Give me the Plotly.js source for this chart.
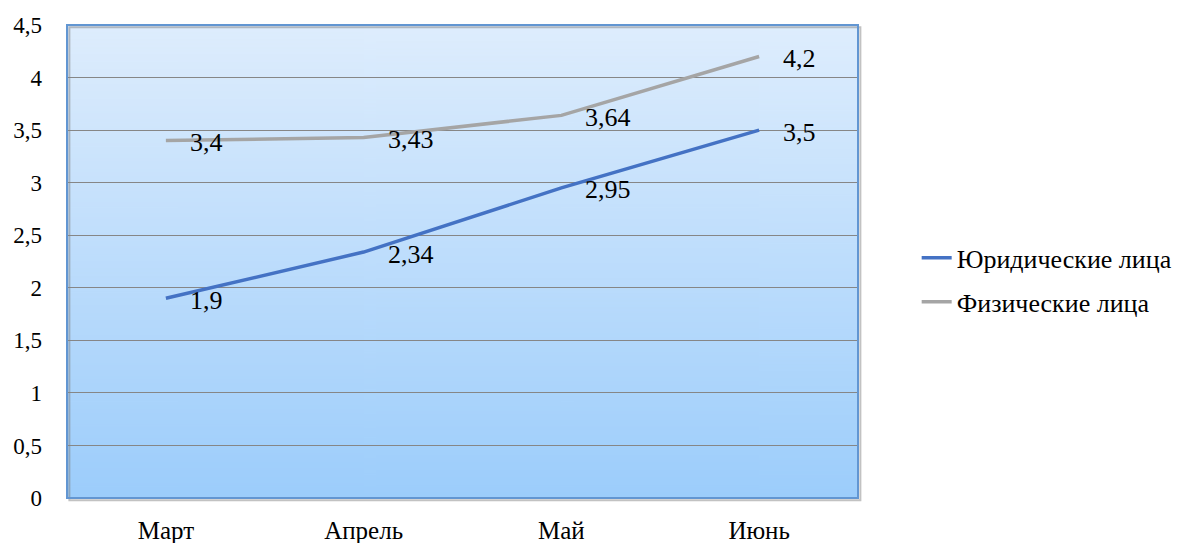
<!DOCTYPE html>
<html><head><meta charset="utf-8">
<script src="https://cdn.plot.ly/plotly-3.0.1.min.js"></script>
<style>html,body{margin:0;padding:0;background:#fff;}#chart{width:1179px;height:543px;}</style>
</head><body><div id="chart"></div>
<script>
const categories = ['Март', 'Апрель', 'Май', 'Июнь'];
const legalValues = [1.9, 2.34, 2.95, 3.5];
const legalLabels = ['1,9', '2,34', '2,95', '3,5'];
const physicalValues = [3.4, 3.43, 3.64, 4.2];
const physicalLabels = ['3,4', '3,43', '3,64', '4,2'];
const yTickVals = [0, 0.5, 1, 1.5, 2, 2.5, 3, 3.5, 4, 4.5];
const yTickText = ['0', '0,5', '1', '1,5', '2', '2,5', '3', '3,5', '4', '4,5'];

const c = document.createElement('canvas');
c.width = 4; c.height = 512;
const ctx = c.getContext('2d');
const g = ctx.createLinearGradient(0, 0, 0, 512);
g.addColorStop(0, 'rgb(222,237,253)');
g.addColorStop(1, 'rgb(156,205,251)');
ctx.fillStyle = g; ctx.fillRect(0, 0, 4, 512);
const grad = c.toDataURL('image/png');

const FAM = 'Liberation Serif, Times New Roman, serif';
function f(size) { return {family: FAM, size: size, color: '#000000'}; }

const traces = [
  {x: categories, y: legalValues, name: 'Юридические лица', type: 'scatter', mode: 'lines',
   line: {color: '#4472C4', width: 3.5}, legend: 'legend'},
  {x: categories, y: physicalValues, name: 'Физические лица', type: 'scatter', mode: 'lines',
   line: {color: '#A5A5A5', width: 3.5}, legend: 'legend2'}
];

const annotations = [];
categories.forEach((cat, i) => {
  annotations.push({x: cat, y: legalValues[i], text: legalLabels[i], showarrow: false,
    xanchor: 'left', yanchor: 'middle', xshift: 22, yshift: -2, font: f(26)});
  annotations.push({x: cat, y: physicalValues[i], text: physicalLabels[i], showarrow: false,
    xanchor: 'left', yanchor: 'middle', xshift: 22, yshift: -2, font: f(26)});
});

const layout = {
  width: 1179, height: 543,
  margin: {l: 67, r: 321, t: 25, b: 45, pad: 0, autoexpand: false},
  paper_bgcolor: '#fff', plot_bgcolor: 'rgba(0,0,0,0)',
  font: f(23),
  showlegend: true,
  legend: {xref: 'container', yref: 'container', x: 0.7775, y: 0.525, xanchor: 'left', yanchor: 'middle',
    font: f(26), bgcolor: 'rgba(0,0,0,0)'},
  legend2: {xref: 'container', yref: 'container', x: 0.7775, y: 0.444, xanchor: 'left', yanchor: 'middle',
    font: f(26), bgcolor: 'rgba(0,0,0,0)'},
  xaxis: {type: 'category', range: [-0.5, 3.5], showgrid: false, zeroline: false, showline: false,
    ticks: '', ticklabelstandoff: 15, tickfont: f(25), fixedrange: true},
  yaxis: {range: [0, 4.5], tickvals: yTickVals, ticktext: yTickText, showgrid: true, gridcolor: '#868686', gridwidth: 1,
    zeroline: false, showline: false, ticks: '', ticklabelstandoff: 24, tickfont: f(23), fixedrange: true},
  images: [{source: grad, xref: 'paper', yref: 'paper', x: 0, y: 1, sizex: 1, sizey: 1,
    xanchor: 'left', yanchor: 'top', sizing: 'stretch', layer: 'below'}],
  shapes: [
    {type: 'rect', xref: 'paper', yref: 'paper', x0: 0.003, x1: 1.003, y0: -0.005, y1: 0.995,
     line: {color: 'rgba(120,120,120,0.45)', width: 2}, layer: 'below'},
    {type: 'rect', xref: 'paper', yref: 'paper', x0: 0, x1: 1, y0: 0, y1: 1,
     line: {color: 'rgb(98,150,210)', width: 2}, layer: 'above'}
  ],
  annotations: annotations
};

Plotly.newPlot('chart', traces, layout, {displayModeBar: false, staticPlot: true});
</script></body></html>
